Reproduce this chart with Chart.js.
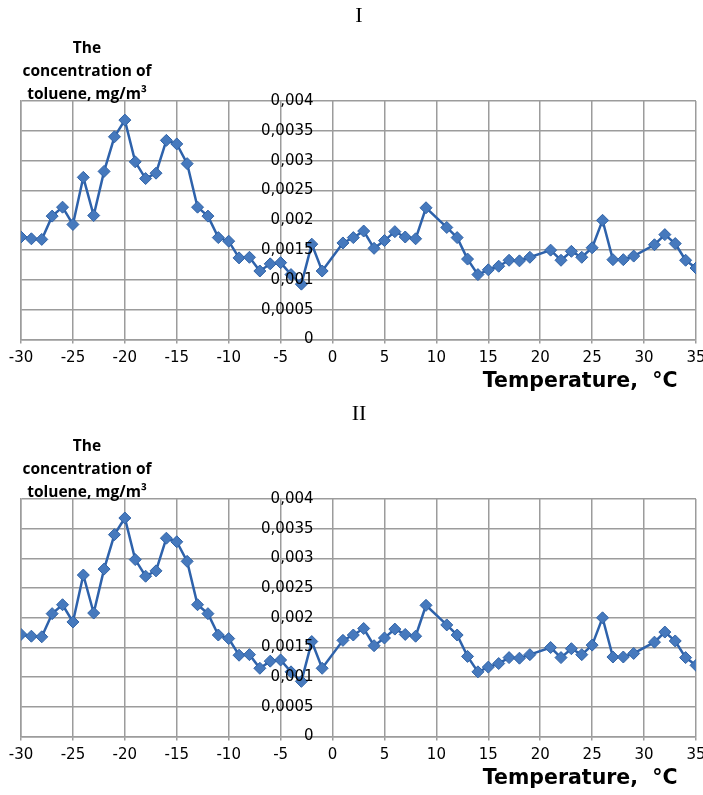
<!DOCTYPE html>
<html>
<head>
<meta charset="utf-8">
<script src="https://cdn.jsdelivr.net/npm/chart.js@4.4.1/dist/chart.umd.min.js"></script>
<style>
    body { margin: 0; background: #fff; }
    canvas { display: block; }
</style>
</head>
<body>
<canvas id="chartI" width="703" height="398"></canvas>
<canvas id="chartII" width="703" height="397"></canvas>
<script>
// Temperature, °C (no readings at 0, 10, 20, 30)
const temperature = [
    -30, -29, -28, -27, -26, -25, -24, -23, -22, -21,
    -20, -19, -18, -17, -16, -15, -14, -13, -12, -11,
    -10, -9, -8, -7, -6, -5, -4, -3, -2, -1,
    1, 2, 3, 4, 5, 6, 7, 8, 9,
    11, 12, 13, 14, 15, 16, 17, 18, 19,
    21, 22, 23, 24, 25, 26, 27, 28, 29,
    31, 32, 33, 34, 35
];

// Toluene concentration, mg/m3
const toluene = [
    0.00172, 0.00169, 0.00168, 0.00207, 0.00222, 0.00193, 0.00272, 0.00208, 0.00282, 0.0034,
    0.00368, 0.00298, 0.0027, 0.00279, 0.00334, 0.00328, 0.00295, 0.00222, 0.00207, 0.00171,
    0.00165, 0.00137, 0.00138, 0.00115, 0.00127, 0.00129, 0.00109, 0.00093, 0.0016, 0.00115,
    0.00162, 0.00171, 0.00182, 0.00153, 0.00166, 0.00181, 0.00172, 0.00169, 0.00221,
    0.00188, 0.00171, 0.00135, 0.00109, 0.00117, 0.00123, 0.00133, 0.00132, 0.00138,
    0.0015, 0.00133, 0.00148, 0.00138, 0.00154, 0.002, 0.00134, 0.00134, 0.0014,
    0.00159, 0.00176, 0.00161, 0.00133, 0.0012
];

const xMin = -30, xMax = 35, xStep = 5;
const yMin = 0, yMax = 0.004, yStep = 0.0005;
const yAxisAt = 0; // the y labels hang off the x = 0 line

const yTitleLines = ["The", "concentration of", "toluene, mg/m\u00b3"];
const xTitle = "Temperature,  \u00b0C  \u2009";

const gridColor = "#9c9c9c";
const lineColor = "#2e62ab";

function yLabel(v) {
    return String(+v.toFixed(4)).replace(".", ",");
}

// y tick labels next to the x = 0 line, plus the caption in the top left corner
const yAxisTextPlugin = {
    id: "yAxisText",
    afterDraw(chart) {
        const ctx = chart.ctx;
        const xs = chart.scales.x;
        const ys = chart.scales.y;
        const labelRight = xs.getPixelForValue(yAxisAt) - 19;
        ctx.save();
        ctx.fillStyle = "#000";
        ctx.font = "15px 'DejaVu Sans'";
        ctx.textAlign = "right";
        ctx.textBaseline = "middle";
        ys.ticks.forEach(t => {
            ctx.fillText(yLabel(t.value), labelRight, ys.getPixelForValue(t.value));
        });
        ctx.font = "bold 15.5px 'Open Sans'";
        ctx.textAlign = "center";
        yTitleLines.forEach((line, i) => {
            ctx.fillText(line, 87, 48.5 + i * 23);
        });
        ctx.restore();
    }
};

function makeChart(id, label) {
    const points = temperature.map((t, i) => ({ x: t, y: toluene[i] }));
    return new Chart(document.getElementById(id), {
        type: "line",
        data: {
            datasets: [{
                data: points,
                borderColor: lineColor,
                borderWidth: 2.5,
                backgroundColor: "#4679bd",
                pointStyle: "rectRot",
                pointRadius: 6,
                pointBorderColor: "#2f62a6",
                pointBorderWidth: 1,
                tension: 0
            }]
        },
        options: {
            responsive: false,
            animation: false,
            devicePixelRatio: 1,
            layout: { padding: { left: 21, right: 6, top: 0, bottom: 0 } },
            plugins: {
                legend: { display: false },
                tooltip: { enabled: false },
                title: {
                    display: true,
                    text: label,
                    color: "#000",
                    font: { family: "'Liberation Serif'", size: 22, weight: "normal", lineHeight: 1.2 },
                    padding: { top: 3, bottom: 71.6 }
                }
            },
            scales: {
                x: {
                    type: "linear",
                    min: xMin,
                    max: xMax,
                    afterFit: s => { s.paddingLeft = 0; s.paddingRight = 0; },
                    ticks: {
                        stepSize: xStep,
                        color: "#000",
                        padding: 6,
                        font: { family: "'DejaVu Sans'", size: 15 },
                        maxRotation: 0,
                        autoSkip: false
                    },
                    grid: { color: gridColor, lineWidth: 1.5, tickLength: 4 },
                    border: { color: gridColor, width: 1.5 },
                    title: {
                        display: true,
                        text: xTitle,
                        align: "end",
                        color: "#000",
                        font: { family: "'DejaVu Sans'", size: 20.5, weight: "bold", lineHeight: 0.8 },
                        padding: { top: 0, bottom: 8 }
                    }
                },
                y: {
                    type: "linear",
                    position: "left",
                    min: yMin,
                    max: yMax,
                    ticks: { stepSize: yStep, display: false },
                    grid: { color: gridColor, lineWidth: 1.5, drawTicks: false },
                    border: { color: gridColor, width: 1.5 }
                }
            }
        },
        plugins: [yAxisTextPlugin]
    });
}

makeChart("chartI", "I");
makeChart("chartII", "II");
</script>
</body>
</html>
